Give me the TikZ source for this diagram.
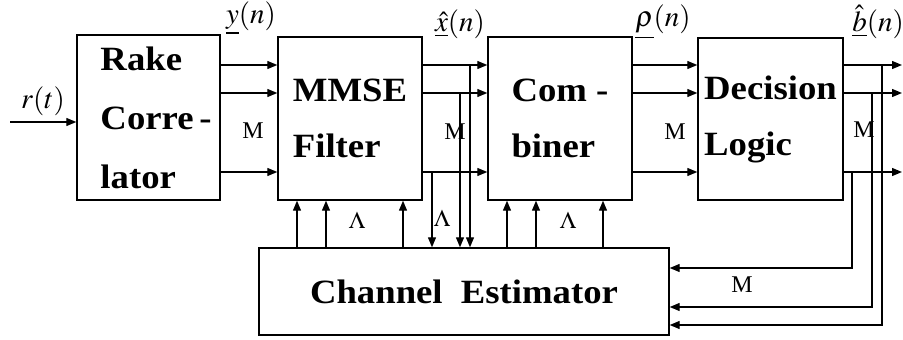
\documentclass[tikz,border=0pt]{standalone}
\usepackage{mathptmx}
\usepackage{fontspec}
\setmainfont{Liberation Serif}
\newfontfamily\blkfont[FakeStretch=1.08]{Liberation Serif}
\usetikzlibrary{arrows.meta,positioning,calc}
\tikzset{
  blk/.style={draw, line width=1.4pt, align=left, inner sep=0pt, font=\blkfont\bfseries\fontsize{34}{56}\selectfont},
  arr/.style={-{Triangle[length=10pt,width=8pt]}, line width=1.3pt},
  lbl/.style={font=\fontsize{29}{32}\selectfont, inner sep=0pt},
  mlbl/.style={font=\fontsize{24}{26}\selectfont, inner sep=0pt},
}
\begin{document}
\begin{tikzpicture}[x=1pt, y=-1pt]
  \useasboundingbox (0,0) rectangle (903,340);
  \node[blk, minimum width=143pt, minimum height=165pt] (rake) at (148.5,117.5) {};
  \node[blk, draw=none, font=\blkfont\bfseries\fontsize{34}{59}\selectfont] (raketxt) at (156,118) {Rake\\Corre\,-\\lator};
  \node[blk, minimum width=144pt, minimum height=163pt] (mmse) at (350,118.5) {MMSE\\Filter};
  \node[blk, minimum width=144pt, minimum height=163pt] (comb) at (560,118.5) {Com -\\biner};
  \node[blk, minimum width=145pt, minimum height=162pt] (dec) at (770.5,119) {Decision\\Logic};
  \node[blk, minimum width=410pt, minimum height=87pt] (est) at (464,291.5) {Channel\hspace{9pt} Estimator};
  % rows and taps
  \coordinate (r1) at (0,65);
  \coordinate (r2) at (0,93);
  \coordinate (r3) at (0,172);
  \coordinate (in) at (10,122);
  \coordinate (out) at (902,0);
  \draw[arr] (in) -- (rake.west |- in);
  \foreach \r in {r1,r2,r3} {
    \draw[arr] (rake.east |- \r) -- (mmse.west |- \r);
    \draw[arr] (mmse.east |- \r) -- (comb.west |- \r);
    \draw[arr] (comb.east |- \r) -- (dec.west |- \r);
    \draw[arr] (dec.east |- \r) -- (out |- \r);
  }
  % feedback into the estimator
  \foreach \x/\r in {470/r1, 460/r2, 432/r3}
    \draw[arr] (\x,0 |- \r) -- (\x,0 |- est.north);
  \foreach \x/\r/\f in {882/r1/325, 872/r2/307, 852/r3/268}
    \draw[arr] (\x,0 |- \r) -- (\x,\f) -- (est.east |- 0,\f);
  % channel estimates
  \foreach \x in {297,326,403}
    \draw[arr] (est.north -| \x,0) -- (mmse.south -| \x,0);
  \foreach \x in {507,536,603}
    \draw[arr] (est.north -| \x,0) -- (comb.south -| \x,0);
  % labels
  \node[lbl] (lr) at (43,101) {$r(t)$};
  \node[lbl] (ly) at (251,18) {$\underline{y}(n)$};
  \node[lbl] (lx) at (460,24) {$\underline{\hat{x}}(n)$};
  \node[lbl] (lp) at (663,22) {$\underline{\rho}(n)$};
  \node[lbl] (lb) at (878,22) {$\underline{\hat{b}}(n)$};
  \node[mlbl] (m1) at (253,131) {M};
  \node[mlbl] (m2) at (455,132) {M};
  \node[mlbl] (m3) at (675,132) {M};
  \node[mlbl] (m4) at (864,130) {M};
  \node[mlbl] (m5) at (742,285) {M};
  \node[mlbl] (l1) at (357,220) {$\Lambda$};
  \node[mlbl] (l2) at (442,218) {$\Lambda$};
  \node[mlbl] (l3) at (568,220) {$\Lambda$};
\end{tikzpicture}
\end{document}
